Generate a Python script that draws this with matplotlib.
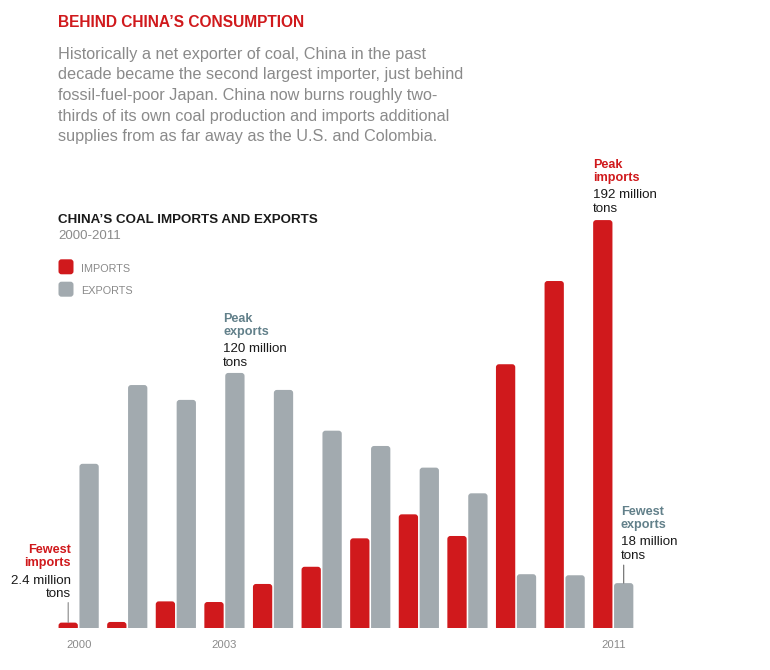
import matplotlib
matplotlib.use("Agg")
import matplotlib.pyplot as plt
from matplotlib.patches import FancyBboxPatch
from matplotlib.transforms import Affine2D, blended_transform_factory
import numpy as np

# ---------------- data ----------------
years = [2000, 2001, 2002, 2003, 2004, 2005, 2006, 2007, 2008, 2009, 2010, 2011]
imports = [2.4, 2.7, 12.4, 12.1, 20.6, 28.7, 42.1, 53.4, 43.2, 124.1, 163.3, 192]
exports = [77.2, 114.3, 107.3, 120, 112, 92.8, 85.6, 75.4, 63.3, 25.2, 24.7, 21]
tick_years = [2000, 2003, 2011]

title = "BEHIND CHINA\u2019S CONSUMPTION"
intro_lines = [
    "Historically a net exporter of coal, China in the past",
    "decade became the second largest importer, just behind",
    "fossil-fuel-poor Japan. China now burns roughly two-",
    "thirds of its own coal production and imports additional",
    "supplies from as far away as the U.S. and Colombia.",
]
chart_title = "CHINA\u2019S COAL IMPORTS AND EXPORTS"
chart_sub = "2000-2011"

RED = "#d0191c"
GRAY = "#a2aaaf"
TEAL = "#62808a"
TXTGRAY = "#8a8a8a"
DARK = "#1a1a1a"

plt.rcParams["font.family"] = ["Liberation Sans", "DejaVu Sans"]

W, H = 770, 670
fig = plt.figure(figsize=(W / 100, H / 100), dpi=100)
fig.patch.set_facecolor("white")
PX = Affine2D().scale(1, -1).translate(0, H)  # pixel coords from top-left

ax = fig.add_axes([30.05 / W, 1 - 627.7 / H, 631.8 / W, 424.6 / H])
ax.set_xlim(-1, 12)
ax.set_ylim(0, 200)
ax.axis("off")

x = np.arange(len(years))
bw = 0.397
b_imp = ax.bar(x - 0.215, imports, bw, color=RED)
b_exp = ax.bar(x + 0.215, exports, bw, color=GRAY)

# round the top corners of bars
ppx = 631.8 / 13.0
ppy = 424.6 / 200.0
aspect = ppx / ppy
r_px = 3.0
rs = r_px / ppx
ry = rs * aspect
for cont, col in ((b_imp, RED), (b_exp, GRAY)):
    for rect in list(cont):
        x0, w, h = rect.get_x(), rect.get_width(), rect.get_height()
        rect.remove()
        p = FancyBboxPatch((x0, -ry), w, h + ry,
                           boxstyle=f"round,pad=0,rounding_size={rs}",
                           mutation_aspect=aspect, fc=col, ec="none", lw=0)
        ax.add_patch(p)

# year labels
bt = blended_transform_factory(ax.transData, PX)
for yv in tick_years:
    ax.text(years.index(yv), 648.0, str(yv), transform=bt, ha="center",
            va="baseline", fontsize=8.1, color=TXTGRAY)

# ---------------- header texts ----------------
def t(xp, yp, s, **kw):
    fig.text(xp, yp, s, transform=PX, va="baseline", **kw)

t(58.5, 27.3, title, fontsize=11.2, fontweight="bold", color=RED)
for i, line in enumerate(intro_lines):
    t(58.5, 58.7 + i * 20.7, line, fontsize=11.7, color=TXTGRAY)

t(58.5, 223.3, chart_title, fontsize=9.6, fontweight="bold", color=DARK)
t(58.5, 239.3, chart_sub, fontsize=9.5, color=TXTGRAY)

# legend
for yy, col, lab in ((259.3, RED, "IMPORTS"), (281.7, GRAY, "EXPORTS")):
    sq = FancyBboxPatch((58.5, H - yy - 15), 15, 15,
                        boxstyle="round,pad=0,rounding_size=3",
                        fc=col, ec="none", transform=None)
    fig.patches.append(sq)
    sq.set_figure(fig)
    t(80.7, yy + 12.4, lab, fontsize=7.8, color=TXTGRAY)

# ---------------- annotations ----------------
LB = 9.1   # bold label size
NB = 9.6   # value text size
# fewest imports (2000)
t(71, 553.3, "Fewest", fontsize=LB, fontweight="bold", color=RED, ha="right")
t(71, 566.0, "imports", fontsize=LB, fontweight="bold", color=RED, ha="right")
t(71, 584.0, "2.4 million", fontsize=NB, color=DARK, ha="right")
t(71, 597.0, "tons", fontsize=NB, color=DARK, ha="right")
ax.annotate("", xy=(0 - 0.215, imports[0]), xycoords="data",
            xytext=(0, 20), textcoords="offset pixels",
            arrowprops=dict(arrowstyle="-", color="#888888", lw=0.8,
                            shrinkA=0, shrinkB=0))

# peak exports (2003)
t(223.3, 322.3, "Peak", fontsize=LB, fontweight="bold", color=TEAL)
t(223.3, 335.0, "exports", fontsize=LB, fontweight="bold", color=TEAL)
t(223.3, 352.3, "120 million", fontsize=NB, color=DARK)
t(223.3, 365.5, "tons", fontsize=NB, color=DARK)

# peak imports (2011)
t(592.7, 168.3, "Peak", fontsize=LB, fontweight="bold", color=RED)
t(592.7, 181.0, "imports", fontsize=LB, fontweight="bold", color=RED)
t(592.7, 198.3, "192 million", fontsize=NB, color=DARK)
t(592.7, 212.0, "tons", fontsize=NB, color=DARK)

# fewest exports (2011)
t(620.7, 515.0, "Fewest", fontsize=LB, fontweight="bold", color=TEAL)
t(620.7, 528.0, "exports", fontsize=LB, fontweight="bold", color=TEAL)
t(620.7, 545.3, "18 million", fontsize=NB, color=DARK)
t(620.7, 559.0, "tons", fontsize=NB, color=DARK)
ax.annotate("", xy=(11 + 0.215, exports[-1]), xycoords="data",
            xytext=(0, 18), textcoords="offset pixels",
            arrowprops=dict(arrowstyle="-", color="#666666", lw=0.8,
                            shrinkA=0, shrinkB=0))

fig.savefig("out.png", dpi=100, facecolor="white")
